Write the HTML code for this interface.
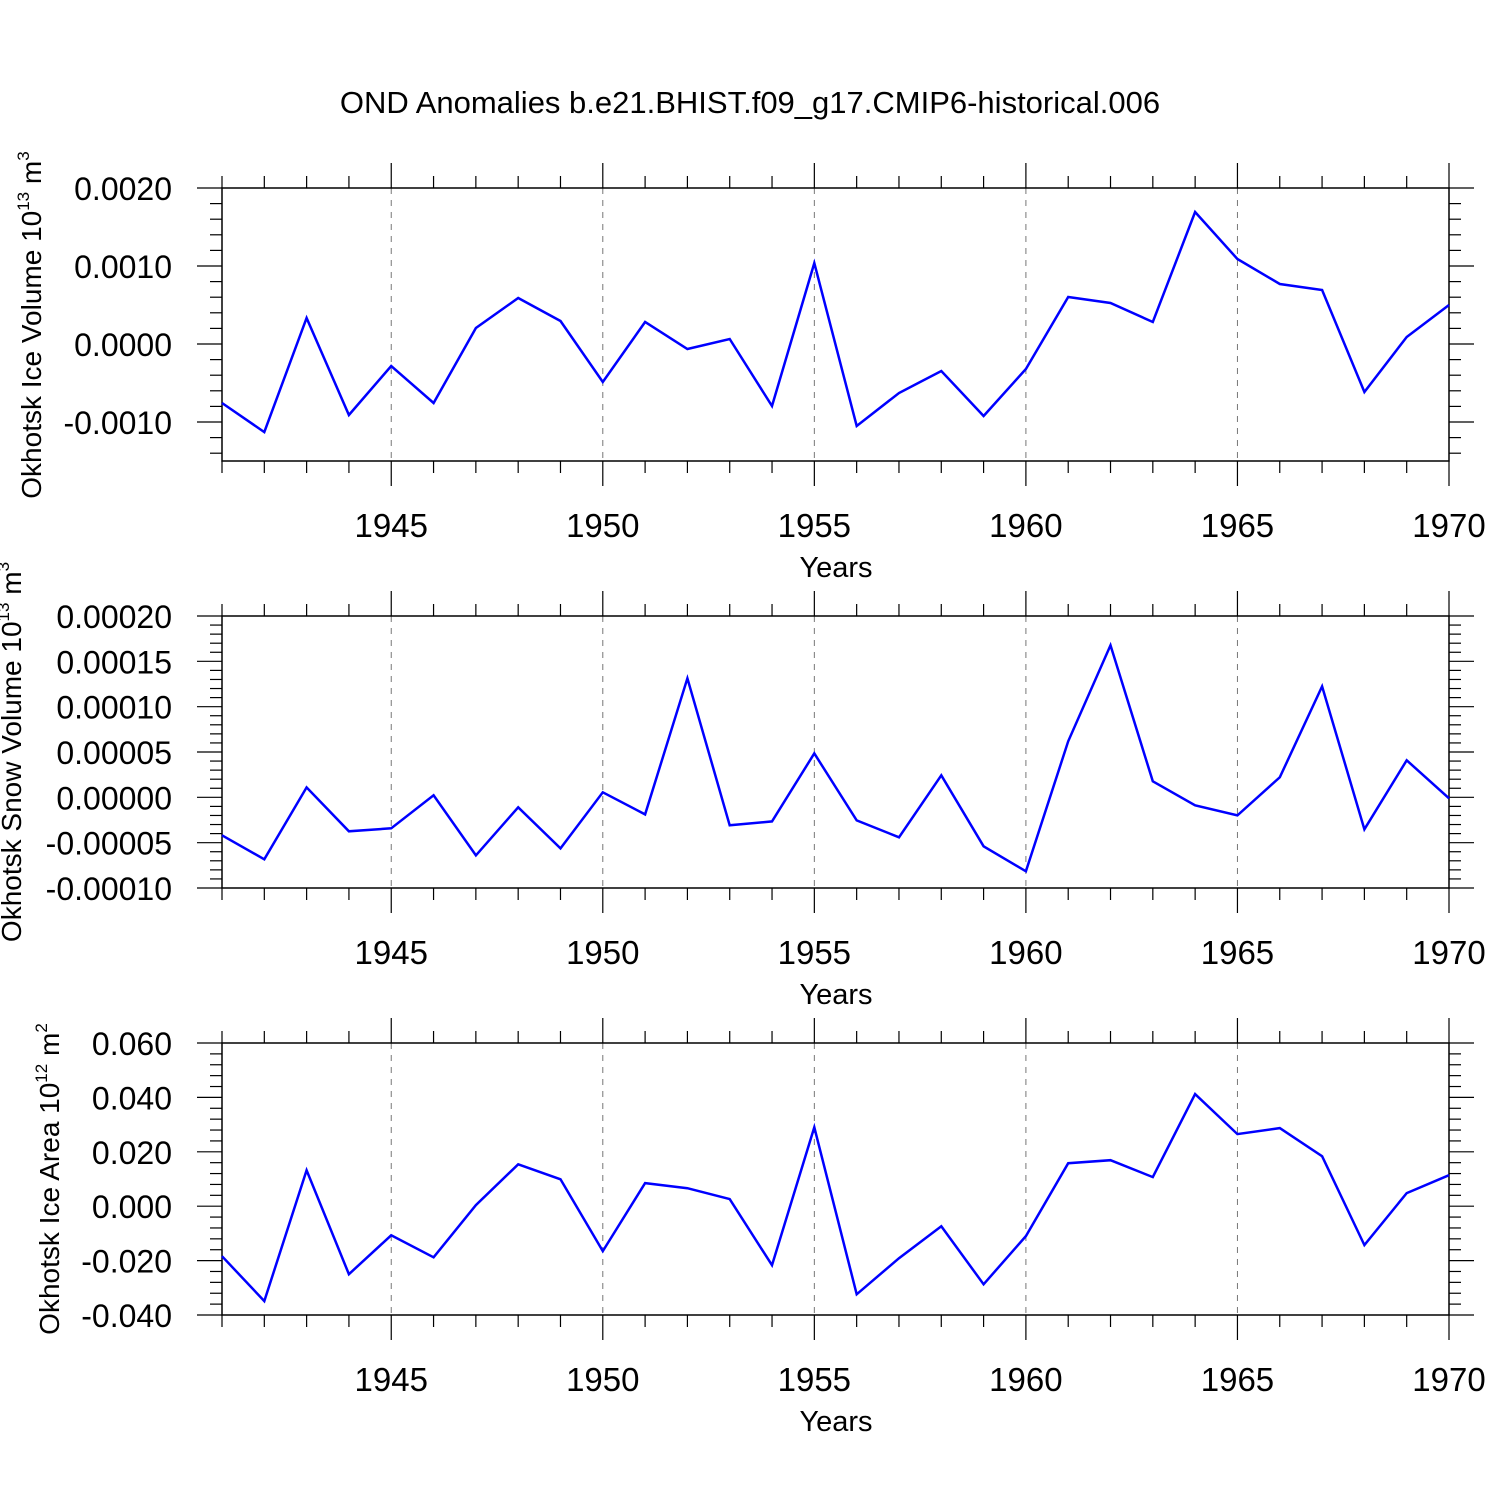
<!DOCTYPE html>
<html><head><meta charset="utf-8">
<style>
html,body{margin:0;padding:0;background:#fff;}
svg{display:block;font-family:"Liberation Sans",Arial,sans-serif;}
</style></head>
<body>
<svg id="chart" width="1500" height="1500" viewBox="0 0 1500 1500">
<text x="750" y="113" font-size="31" text-anchor="middle">OND Anomalies b.e21.BHIST.f09_g17.CMIP6-historical.006</text>
</svg>
<script>
const years = [1941,1942,1943,1944,1945,1946,1947,1948,1949,1950,1951,1952,1953,1954,1955,1956,1957,1958,1959,1960,1961,1962,1963,1964,1965,1966,1967,1968,1969,1970];
const iceVolume = [-0.000756,-0.00113,0.000333,-0.00091,-0.000282,-0.000756,0.000205,0.00059,0.000295,-0.000487,0.000282,-0.000064,0.000064,-0.000795,0.001037,-0.001051,-0.000628,-0.000346,-0.000923,-0.000321,0.000603,0.000526,0.000282,0.001692,0.00109,0.000769,0.000692,-0.000615,0.00009,0.0005];
const snowVolume = [-0.0000419,-0.0000684,0.000011,-0.0000375,-0.0000342,0.0000022,-0.000064,-0.000011,-0.0000563,0.0000055,-0.0000188,0.0001313,-0.0000309,-0.0000265,0.0000485,-0.0000254,-0.0000441,0.0000243,-0.000054,-0.0000816,0.0000618,0.0001677,0.0000177,-0.0000088,-0.0000199,0.0000221,0.0001224,-0.0000353,0.0000408,-0.0000011];
const iceArea = [-0.0184,-0.0349,0.0132,-0.025,-0.0107,-0.0188,0.0004,0.0154,0.0099,-0.0165,0.0085,0.0066,0.0026,-0.0217,0.029,-0.0324,-0.0191,-0.0074,-0.0287,-0.011,0.0158,0.0169,0.0107,0.0412,0.0265,0.0287,0.0184,-0.0143,0.0048,0.0114];
const xTickLabels = ["1945","1950","1955","1960","1965","1970"];
const iceVolTicks = ["0.0020","0.0010","0.0000","-0.0010"];
const snowTicks = ["0.00020","0.00015","0.00010","0.00005","0.00000","-0.00005","-0.00010"];
const areaTicks = ["0.060","0.040","0.020","0.000","-0.020","-0.040"];

const svg = document.getElementById('chart');
const NS = 'http://www.w3.org/2000/svg';
const X0 = 222, X1 = 1449, YR0 = 1941, YR1 = 1970;
const xScale = y => X0 + (y - YR0) * (X1 - X0) / (YR1 - YR0);

function mk(tag, attrs, parent){
  const e = document.createElementNS(NS, tag);
  for (const k in attrs) e.setAttribute(k, attrs[k]);
  (parent || svg).appendChild(e);
  return e;
}

function panel(key, top, bottom, ymin, ymax, majorStep, minorStep, tickLabels, data, titleParts, titleY){
  const g = mk('g', {});
  
  
  const yScale = v => bottom - (v - ymin) * (bottom - top) / (ymax - ymin);
  xTickLabels.forEach(l => {
    const x = xScale(+l);
    if (+l < YR1) {
      const gl = mk('line', {x1:x, x2:x, y1:top, y2:bottom, stroke:'#777', 'stroke-width':1, 'stroke-dasharray':'6,6'}, g);
      
      
    }
  });
  years.forEach(y => {
    const x = xScale(y);
    const major = y % 5 === 0;
    const len = major ? 25 : 12;
    mk('line', {x1:x, x2:x, y1:top, y2:top - len, stroke:'#000', 'stroke-width':1.2}, g);
    mk('line', {x1:x, x2:x, y1:bottom, y2:bottom + len, stroke:'#000', 'stroke-width':1.2}, g);
  });
  const kStart = Math.ceil(ymin / minorStep - 1e-6), kEnd = Math.floor(ymax / minorStep + 1e-6);
  for (let k = kStart; k <= kEnd; k++) {
    const v = k * minorStep;
    const y = yScale(v);
    const r = v / majorStep;
    const major = Math.abs(r - Math.round(r)) < 1e-6;
    const len = major ? 25 : 12;
    mk('line', {x1:X0, x2:X0 - len, y1:y, y2:y, stroke:'#000', 'stroke-width':1.2}, g);
    mk('line', {x1:X1, x2:X1 + len, y1:y, y2:y, stroke:'#000', 'stroke-width':1.2}, g);
  }
  const fr = mk('rect', {x:X0, y:top, width:X1 - X0, height:bottom - top, fill:'none', stroke:'#000', 'stroke-width':1.5}, g);
  
  
  tickLabels.forEach(l => {
    const t = mk('text', {x:172, y:yScale(parseFloat(l)) + 12, 'font-size':32, 'text-anchor':'end'}, g);
    t.textContent = l;
    
    
  });
  xTickLabels.forEach(l => {
    const t = mk('text', {x:xScale(+l), y:bottom + 76, 'font-size':33, 'text-anchor':'middle'}, g);
    t.textContent = l;
    
    
  });
  const xt = mk('text', {x:836, y:bottom + 116, 'font-size':29, 'text-anchor':'middle'}, g);
  xt.textContent = 'Years';
  
  
  const yt = mk('text', {x:0, y:0, 'font-size':28, 'text-anchor':'middle', transform:'translate(' + titleParts.x + ',' + titleY + ') rotate(-90)'}, g);
  
  
  const s1 = mk('tspan', {}, yt); s1.textContent = titleParts.main;
  const s2 = mk('tspan', {'font-size':17, dy:-12}, yt); s2.textContent = titleParts.exp;
  const s3 = mk('tspan', {dy:12}, yt); s3.textContent = ' m';
  const s4 = mk('tspan', {'font-size':17, dy:-12}, yt); s4.textContent = titleParts.unitExp;
  const pts = years.map((y, i) => xScale(y).toFixed(1) + ',' + yScale(data[i]).toFixed(1)).join(' ');
  const pl = mk('polyline', {points:pts, fill:'none', stroke:'#0000ff', 'stroke-width':2.5, 'stroke-linejoin':'miter'}, g);
  
  
}

panel('ice-volume', 188, 461, -0.0015, 0.0020, 0.001, 0.0002, iceVolTicks, iceVolume,
  {x:41, main:'Okhotsk Ice Volume 10', exp:'13', unitExp:'3'}, 325);
panel('snow-volume', 616, 888, -0.0001, 0.0002, 0.00005, 0.00001, snowTicks, snowVolume,
  {x:21, main:'Okhotsk Snow Volume 10', exp:'13', unitExp:'3'}, 752);
panel('ice-area', 1043, 1315, -0.04, 0.06, 0.02, 0.004, areaTicks, iceArea,
  {x:59, main:'Okhotsk Ice Area 10', exp:'12', unitExp:'2'}, 1179);
</script>
</body></html>
